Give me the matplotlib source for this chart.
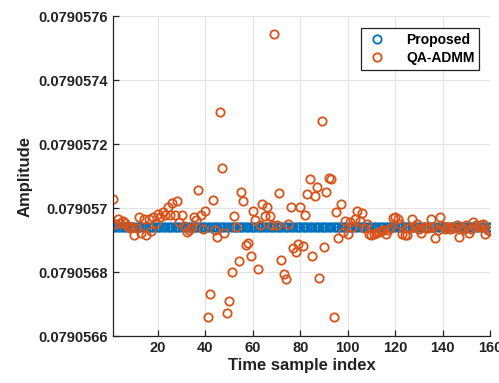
import numpy as np
import matplotlib
matplotlib.use("Agg")
import matplotlib.pyplot as plt
from matplotlib.ticker import FixedLocator, FixedFormatter

plt.rcParams['font.family'] = ['Liberation Sans', 'DejaVu Sans']
plt.rcParams['font.weight'] = 'bold'

# Time sample indices
samples = np.arange(1, 161)

# Estimate from the proposed method (flat across all samples)
proposed = np.full(160, 0.07905694)

# Estimate from QA-ADMM
qa_admm = [
    0.079057028, 0.079056950, 0.079056966, 0.079056953, 0.079056959,
    0.079056953, 0.079056944, 0.079056937, 0.079056941, 0.079056916,
    0.079056937, 0.079056972, 0.079056922, 0.079056966, 0.079056916,
    0.079056966, 0.079056928, 0.079056972, 0.079056953, 0.079056981,
    0.079056972, 0.079056987, 0.079056978, 0.079057003, 0.079056978,
    0.079057016, 0.079056978, 0.079057022, 0.079056956, 0.079056978,
    0.079056944, 0.079056925, 0.079056931, 0.079056937, 0.079056972,
    0.079056962, 0.079057056, 0.079056978, 0.079056934, 0.079056991,
    0.079056660, 0.079056730, 0.079057025, 0.079056930, 0.079056908,
    0.079057299, 0.079057124, 0.079056921, 0.079056671, 0.079056708,
    0.079056799, 0.079056974, 0.079056940, 0.079056834, 0.079057050,
    0.079057022, 0.079056884, 0.079056891, 0.079056850, 0.079056991,
    0.079056964, 0.079056809, 0.079056947, 0.079057012, 0.079056976,
    0.079057002, 0.079056976, 0.079056947, 0.079057543, 0.079056947,
    0.079057047, 0.079056837, 0.079056794, 0.079056778, 0.079056950,
    0.079057002, 0.079056876, 0.079056863, 0.079056887, 0.079057002,
    0.079056882, 0.079056978, 0.079057043, 0.079057091, 0.079056851,
    0.079057038, 0.079057065, 0.079056780, 0.079057273, 0.079056878,
    0.079057051, 0.079057095, 0.079057091, 0.079056658, 0.079056988,
    0.079056905, 0.079057012, 0.079056926, 0.079056960, 0.079056918,
    0.079056957, 0.079056942, 0.079056965, 0.079056992, 0.079056960,
    0.079056985, 0.079056937, 0.079056950, 0.079056918, 0.079056916,
    0.079056918, 0.079056923, 0.079056926, 0.079056928, 0.079056931,
    0.079056919, 0.079056931, 0.079056937, 0.079056968, 0.079056973,
    0.079056965, 0.079056950, 0.079056918, 0.079056916, 0.079056916,
    0.079056937, 0.079056965, 0.079056942, 0.079056950, 0.079056933,
    0.079056921, 0.079056942, 0.079056937, 0.079056937, 0.079056965,
    0.079056942, 0.079056905, 0.079056931, 0.079056971, 0.079056944,
    0.079056933, 0.079056942, 0.079056933, 0.079056940, 0.079056937,
    0.079056947, 0.079056908, 0.079056942, 0.079056933, 0.079056947,
    0.079056923, 0.079056933, 0.079056957, 0.079056947, 0.079056940,
    0.079056947, 0.079056950, 0.079056919, 0.079056931, 0.079056928,
]

y_ticks = [0.0790566, 0.0790568, 0.0790570, 0.0790572, 0.0790574, 0.0790576]
y_tick_labels = ['0.0790566', '0.0790568', '0.079057', '0.0790572',
                 '0.0790574', '0.0790576']
x_ticks = [20, 40, 60, 80, 100, 120, 140, 160]

blue = '#0072BD'
orange = '#D95319'
ink = '#222222'

fig = plt.figure(figsize=(4.99, 3.83), dpi=100)
ax = fig.add_axes([0.2265, 0.1227, 0.7555, 0.8355])

ax.plot(samples, proposed, 'o', ls='none', mfc='none', mec=blue,
        ms=6.0, mew=1.3, label='Proposed')
ax.plot(samples, qa_admm, 'o', ls='none', mfc='none', mec=orange,
        ms=6.0, mew=1.3, label='QA-ADMM')

ax.set_xlim(1, 160)
ax.set_ylim(0.0790566, 0.0790576)
ax.xaxis.set_major_locator(FixedLocator(x_ticks))
ax.yaxis.set_major_locator(FixedLocator(y_ticks))
ax.yaxis.set_major_formatter(FixedFormatter(y_tick_labels))

ax.grid(True, color='#e3e3e3', lw=0.8)
ax.set_axisbelow(True)
for s in ('top', 'right'):
    ax.spines[s].set_visible(False)
for s in ('left', 'bottom'):
    ax.spines[s].set_color(ink)
    ax.spines[s].set_linewidth(0.9)

ax.tick_params(direction='in', length=4, width=0.9, colors=ink,
               labelsize=10.5)
for lab in ax.get_xticklabels() + ax.get_yticklabels():
    lab.set_fontweight('bold')

ax.set_xlabel('Time sample index', fontsize=12, fontweight='bold',
              color=ink, labelpad=2)
ax.set_ylabel('Amplitude', fontsize=12, fontweight='bold',
              color=ink, labelpad=4)

leg = ax.legend(loc='upper right', bbox_to_anchor=(0.99, 0.985),
                prop={'weight': 'bold', 'size': 10}, fancybox=False,
                edgecolor=ink, framealpha=1, handlelength=1.6,
                borderpad=0.35, labelspacing=0.3, handletextpad=1.3)
leg.get_frame().set_linewidth(0.9)

fig.savefig('out.png', dpi=100)
